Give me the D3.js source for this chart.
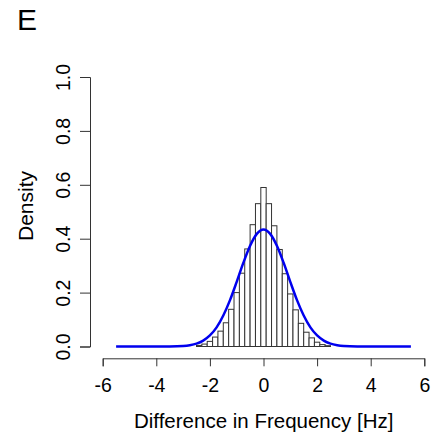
<!DOCTYPE html>
<html><head><meta charset="utf-8">
<script src="https://cdn.jsdelivr.net/npm/d3@7"></script>
<style>html,body{margin:0;padding:0;background:#fff}svg{display:block}text{font-family:"Liberation Sans",Arial,sans-serif;fill:#000}</style>
</head><body>
<script>
// Histogram bins (centers, width 0.2) and densities
const binCenters = [-2.4,-2.2,-2.0,-1.8,-1.6,-1.4,-1.2,-1.0,-0.8,-0.6,-0.4,-0.2,0.0,0.2,0.4,0.6,0.8,1.0,1.2,1.4,1.6,1.8,2.0,2.2,2.4];
const binDensity = [0.004,0.009,0.019,0.035,0.057,0.088,0.138,0.200,0.272,0.362,0.452,0.530,0.590,0.530,0.448,0.360,0.270,0.195,0.136,0.086,0.053,0.032,0.016,0.007,0.003];
const binWidth = 0.2;
// Fitted density curve points
const curveX = [-5.5,-4.5,-4.0,-3.5,-3.0,-2.75,-2.5,-2.25,-2.0,-1.75,-1.5,-1.25,-1.0,-0.75,-0.5,-0.25,0,0.25,0.5,0.75,1.0,1.25,1.5,1.75,2.0,2.25,2.5,2.75,3.0,3.5,4.0,4.5,5.5];
const curveY = [0,0,0.00003,0.0003,0.0021,0.005,0.0108,0.022,0.041,0.071,0.115,0.172,0.240,0.311,0.374,0.418,0.434,0.418,0.374,0.311,0.240,0.172,0.115,0.071,0.041,0.022,0.0108,0.005,0.0021,0.0003,0.00003,0,0];
const xTicks = [-6,-4,-2,0,2,4,6];
const yTicks = [0.0,0.2,0.4,0.6,0.8,1.0];

const W=434,H=440;
const svg=d3.select("body").append("svg").attr("width",W).attr("height",H);
const x=d3.scaleLinear().domain([-6,6]).range([102.7,424.3]);
const y=d3.scaleLinear().domain([0,1]).range([346.5,77]);
const FONT="Liberation Sans, Arial, sans-serif";

svg.append("text").attr("x",17).attr("y",30).attr("font-size",30).text("E");

// bars
svg.append("g").selectAll("rect").data(binCenters).join("rect")
  .attr("x",(d)=>x(d-binWidth/2)).attr("width",(d)=>x(d+binWidth/2)-x(d-binWidth/2))
  .attr("y",(d,i)=>y(binDensity[i])).attr("height",(d,i)=>y(0)-y(binDensity[i]))
  .attr("fill","#fff").attr("stroke","#333").attr("stroke-width",1);

// curve
const pts=curveX.map((v,i)=>[v,curveY[i]]);
svg.append("path").datum(pts)
  .attr("d",d3.line().x(d=>x(d[0])).y(d=>y(d[1])).curve(d3.curveMonotoneX))
  .attr("fill","none").attr("stroke","#0000ee").attr("stroke-width",2.5);

// x axis
const xa=svg.append("g").attr("transform","translate(0,358.3)")
  .call(d3.axisBottom(x).tickValues(xTicks).tickSize(8).tickFormat(d=>String(d)));
xa.select(".domain").attr("stroke","#333");
xa.selectAll(".tick line").attr("stroke","#333");
xa.selectAll(".tick text").attr("font-size",19.5).attr("font-family",FONT).attr("fill","#000")
  .attr("y",34).attr("dy",null);

// y axis
const ya=svg.append("g").attr("transform","translate(90,0)")
  .call(d3.axisLeft(y).tickValues(yTicks).tickSize(10).tickFormat(d3.format(".1f")));
ya.select(".domain").attr("stroke","#333");
ya.selectAll(".tick line").attr("stroke","#333");
ya.selectAll(".tick text").attr("font-size",19.5).attr("font-family",FONT).attr("fill","#000")
  .attr("x",0).attr("dy",null).attr("text-anchor","middle").attr("dominant-baseline","central")
  .attr("transform","translate(-27.5,0) rotate(-90)");

svg.append("text").attr("transform","translate(25,206) rotate(-90)").attr("text-anchor","middle")
  .attr("dominant-baseline","central").attr("font-size",21).text("Density");
svg.append("text").attr("x",263.7).attr("y",428).attr("text-anchor","middle").attr("font-size",20.5)
  .text("Difference in Frequency [Hz]");
</script>
</body></html>
